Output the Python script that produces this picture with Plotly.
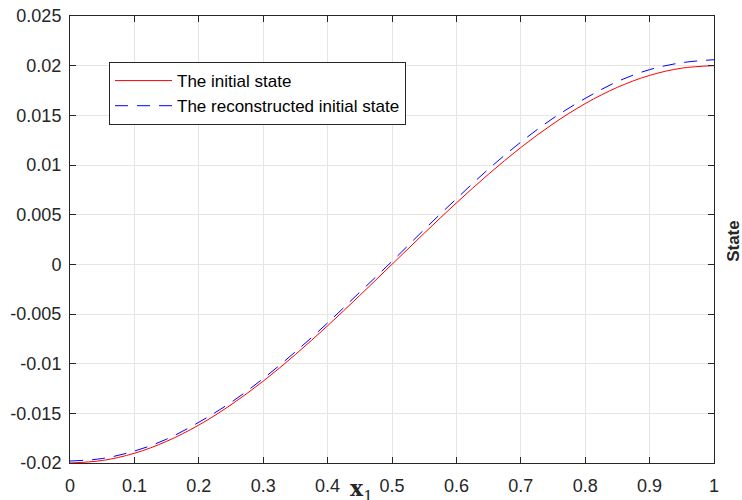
import plotly.graph_objects as go

x_vals = [0, 0.05, 0.1, 0.15, 0.2, 0.25, 0.3, 0.35, 0.4, 0.45, 0.5,
          0.55, 0.6, 0.65, 0.7, 0.75, 0.8, 0.85, 0.9, 0.95, 1.0]
initial_state = [-0.02, -0.01975, -0.01902, -0.01782, -0.01618, -0.01414, -0.01176,
                 -0.00908, -0.00618, -0.00313, 0.0, 0.00313, 0.00618, 0.00908,
                 0.01176, 0.01414, 0.01618, 0.01782, 0.01902, 0.01975, 0.02]
reconstructed_state = [-0.0198, -0.01955, -0.0188, -0.0176, -0.0159, -0.0139, -0.0115,
                       -0.0088, -0.0059, -0.0028, 0.0003, 0.0035, 0.0066, 0.0096,
                       0.0123, 0.0147, 0.0167, 0.0184, 0.0196, 0.0203, 0.0206]
x_ticks = [0, 0.1, 0.2, 0.3, 0.4, 0.5, 0.6, 0.7, 0.8, 0.9, 1]
x_tick_labels = ["0", "0.1", "0.2", "0.3", "0.4", "0.5", "0.6", "0.7", "0.8", "0.9", "1"]
y_ticks = [-0.02, -0.015, -0.01, -0.005, 0, 0.005, 0.01, 0.015, 0.02, 0.025]
y_tick_labels = ["-0.02", "-0.015", "-0.01", "-0.005", "0", "0.005", "0.01", "0.015", "0.02", "0.025"]

FONT = "Liberation Sans, Arial, Helvetica, sans-serif"

fig = go.Figure()
fig.add_trace(go.Scatter(x=x_vals, y=initial_state, mode="lines", name="The initial state",
                         line=dict(color="#ff0000", width=1, shape="spline")))
fig.add_trace(go.Scatter(x=x_vals, y=reconstructed_state, mode="lines",
                         name="The reconstructed initial state",
                         line=dict(color="#0000ff", width=1, dash="13px,9px", shape="spline")))

axis_common = dict(showline=True, linecolor="#262626", linewidth=1, mirror="ticks",
                   ticks="inside", ticklen=6, tickcolor="#262626", automargin=False,
                   showgrid=True, gridcolor="#e5e5e5", gridwidth=1, zeroline=False,
                   ticklabeloverflow="allow",
                   tickfont=dict(family=FONT, size=18, color="#262626"))

fig.update_layout(
    width=742, height=500, autosize=False,
    margin=dict(l=70, r=28, t=16, b=37),
    plot_bgcolor="white", paper_bgcolor="white",
    xaxis=dict(range=[0, 1], tickvals=x_ticks, ticktext=x_tick_labels,
               ticklabelstandoff=6, **axis_common),
    yaxis=dict(range=[-0.02, 0.025], tickvals=y_ticks, ticktext=y_tick_labels,
               ticklabelstandoff=4, **axis_common),
    legend=dict(x=0.0606, y=0.897, xanchor="left", yanchor="top",
                bgcolor="white", bordercolor="#262626", borderwidth=1,
                font=dict(family=FONT, size=17, color="#000000"),
                itemwidth=57, tracegroupgap=0),
    showlegend=True,
    annotations=[
        dict(text="<b>State</b>", x=1, xref="paper", xanchor="center", xshift=20,
             y=0.497, yref="paper", yanchor="middle", textangle=-90, showarrow=False,
             font=dict(family=FONT, size=17, color="#262626")),
        dict(text="<b>x</b><sub>1</sub>", x=0.453, xref="paper", xanchor="center",
             y=0, yref="paper", yanchor="middle", yshift=-27, showarrow=False,
             font=dict(family="DejaVu Serif, Liberation Serif, serif", size=22, color="#262626")),
    ],
)

fig.write_html("out.html",
               config={"responsive": False, "displayModeBar": False},
               post_script="document.body.style.margin='0px';document.body.style.overflow='hidden';")
